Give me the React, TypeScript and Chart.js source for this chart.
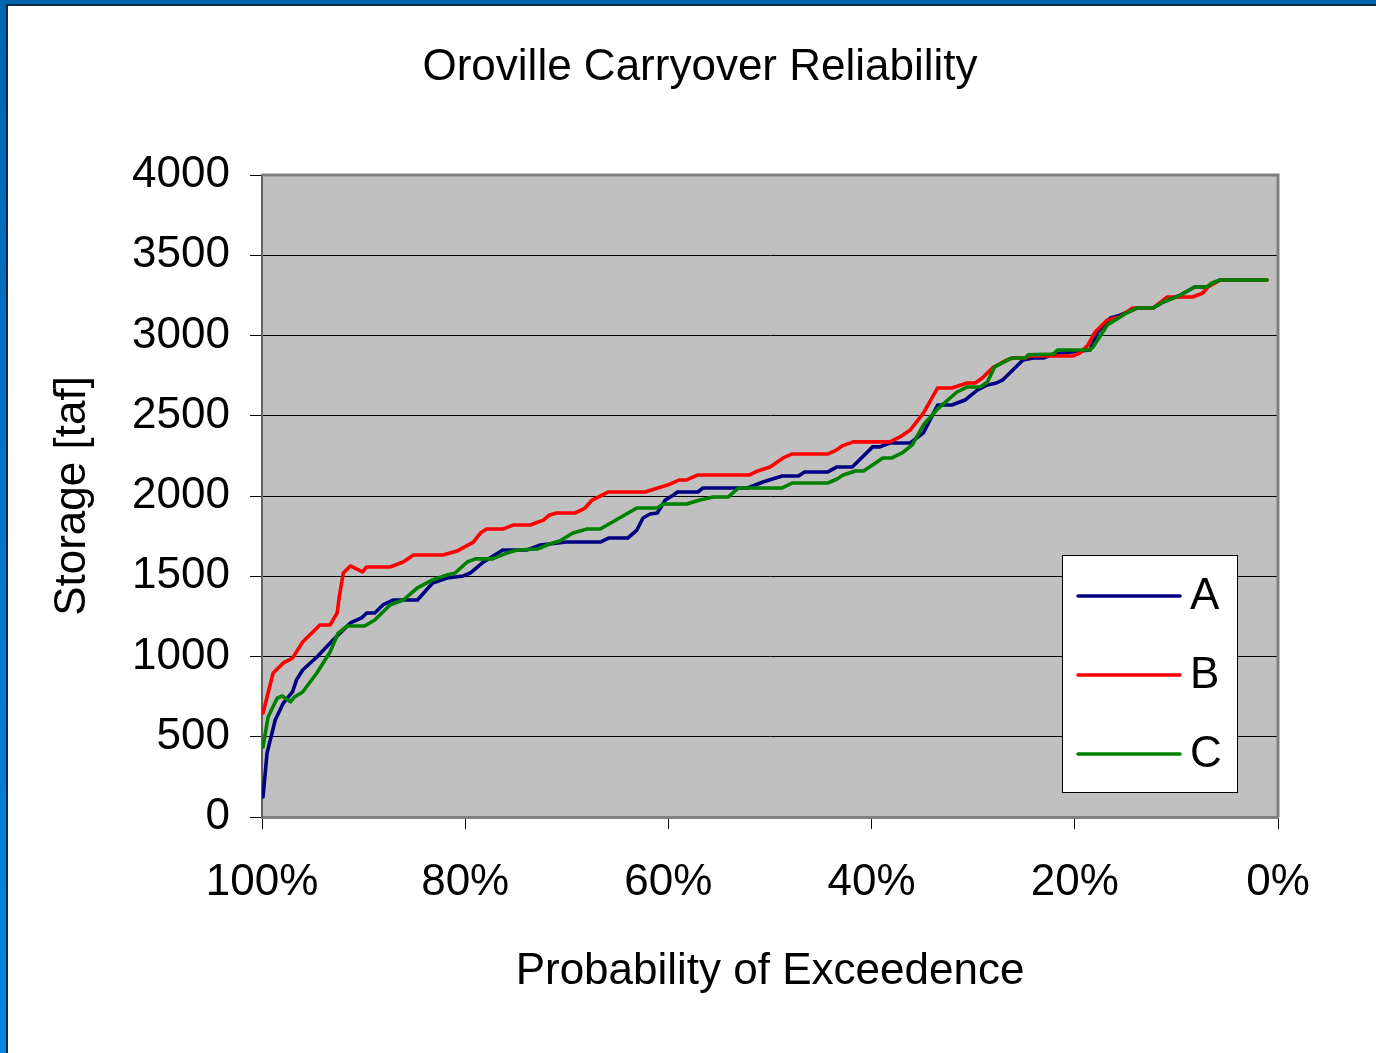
import React, { useEffect, useRef } from "react";
import { Chart, registerables } from "chart.js";

Chart.register(...registerables);

const TITLE = "Oroville Carryover Reliability";
const X_TITLE = "Probability of Exceedence";
const Y_TITLE = "Storage [taf]";
const SERIES_NAMES = ["A", "B", "C"];
const SERIES_COLORS = ["#000080", "#FF0000", "#008000"];

// Probability of exceedence (%) and storage (taf) for each series
const aX = [99.9, 99.5, 98.7, 97.9, 97.0, 96.6, 96.0, 94.6, 93.0, 91.3, 90.2, 89.7, 88.9, 88.1, 87.1, 84.7, 83.2, 81.8, 80.2, 79.5, 78.2, 76.3, 73.9, 72.6, 70.0, 66.7, 65.9, 64.0, 63.1, 62.5, 61.8, 61.1, 60.3, 59.5, 59.1, 57.1, 56.6, 52.2, 50.7, 48.8, 47.2, 46.6, 44.3, 43.4, 41.9, 40.9, 39.9, 39.2, 38.2, 36.2, 34.9, 33.5, 32.1, 30.8, 29.6, 28.6, 27.7, 27.1, 25.1, 24.1, 23.1, 22.1, 18.5, 17.8, 16.5, 15.8, 13.9, 12.3, 11.3, 9.6, 8.2, 7.0, 5.7, 1.1];
const aY = [125, 399, 604, 710, 779, 854, 916, 997, 1103, 1209, 1240, 1271, 1271, 1321, 1352, 1352, 1458, 1489, 1502, 1520, 1589, 1664, 1664, 1695, 1713, 1713, 1738, 1738, 1788, 1863, 1888, 1894, 1975, 2006, 2025, 2025, 2050, 2050, 2087, 2125, 2125, 2150, 2150, 2181, 2181, 2243, 2306, 2306, 2330, 2330, 2393, 2567, 2567, 2598, 2660, 2692, 2704, 2723, 2847, 2860, 2860, 2885, 2910, 3016, 3109, 3121, 3171, 3171, 3209, 3252, 3302, 3302, 3346, 3346];

const bX = [99.9, 98.9, 97.9, 97.0, 96.0, 94.3, 93.3, 92.6, 92.4, 92.0, 91.3, 90.1, 89.7, 87.4, 86.1, 85.1, 82.2, 80.8, 79.2, 78.5, 77.9, 76.3, 75.3, 73.6, 72.3, 71.7, 71.0, 69.2, 68.2, 67.5, 65.9, 62.3, 60.1, 58.9, 58.2, 57.1, 52.0, 51.2, 50.0, 48.7, 47.8, 44.3, 43.6, 42.9, 41.8, 38.2, 37.2, 36.2, 34.9, 33.5, 32.1, 30.6, 29.8, 29.1, 28.1, 26.7, 26.1, 24.9, 24.4, 20.2, 19.5, 18.7, 18.0, 16.8, 15.6, 14.3, 12.3, 10.9, 8.4, 7.4, 6.9, 5.7, 1.1];
const bY = [648, 897, 960, 990, 1090, 1196, 1196, 1271, 1370, 1520, 1564, 1527, 1558, 1558, 1589, 1632, 1632, 1657, 1713, 1769, 1794, 1794, 1819, 1819, 1850, 1882, 1894, 1894, 1925, 1975, 2025, 2025, 2068, 2100, 2100, 2131, 2131, 2156, 2181, 2237, 2262, 2262, 2281, 2312, 2337, 2337, 2368, 2411, 2517, 2673, 2673, 2704, 2704, 2735, 2798, 2847, 2860, 2860, 2872, 2872, 2891, 2941, 3022, 3097, 3115, 3171, 3171, 3240, 3240, 3265, 3302, 3346, 3346];

const cX = [99.9, 99.4, 98.5, 98.0, 97.2, 96.8, 96.0, 94.6, 93.3, 92.5, 91.6, 89.9, 88.9, 87.4, 86.1, 84.7, 83.2, 81.8, 81.0, 79.8, 79.0, 77.3, 75.9, 74.9, 72.9, 71.7, 70.7, 69.4, 68.0, 66.7, 65.5, 63.8, 63.1, 61.1, 60.5, 58.2, 56.9, 55.6, 54.1, 53.1, 48.8, 47.8, 44.3, 43.4, 42.8, 41.6, 40.8, 39.9, 38.9, 38.0, 37.0, 36.0, 34.9, 33.6, 31.6, 30.6, 29.3, 28.6, 27.9, 26.2, 24.9, 24.6, 22.1, 21.7, 18.5, 18.2, 16.8, 14.9, 13.9, 12.3, 11.3, 9.6, 8.2, 7.0, 6.5, 5.7, 1.1];
const cY = [436, 623, 741, 754, 717, 748, 779, 897, 1028, 1146, 1190, 1190, 1227, 1321, 1352, 1427, 1477, 1508, 1520, 1589, 1608, 1608, 1645, 1664, 1670, 1701, 1720, 1769, 1794, 1794, 1838, 1900, 1925, 1925, 1950, 1950, 1975, 1994, 1994, 2050, 2050, 2081, 2081, 2106, 2131, 2156, 2156, 2193, 2237, 2237, 2268, 2318, 2442, 2536, 2648, 2679, 2679, 2710, 2804, 2860, 2860, 2879, 2885, 2910, 2910, 2928, 3065, 3140, 3171, 3171, 3209, 3252, 3302, 3302, 3327, 3346, 3346];

const X_MIN = 0;
const X_MAX = 100;
const X_STEP = 20;
const Y_MIN = 0;
const Y_MAX = 4000;
const Y_STEP = 500;

const FONT = "'Liberation Sans', Arial, Helvetica, sans-serif";

const toXY = (xs: number[], ys: number[]) => xs.map((x, i) => ({ x, y: ys[i] }));

const plotBackground = {
  id: "plotBackground",
  beforeDraw(chart: any) {
    const { ctx, chartArea } = chart;
    ctx.save();
    ctx.fillStyle = "#C0C0C0";
    ctx.fillRect(chartArea.left, chartArea.top, chartArea.right - chartArea.left, chartArea.bottom - chartArea.top);
    ctx.restore();
  },
  beforeDatasetsDraw(chart: any) {
    const { ctx, chartArea } = chart;
    ctx.save();
    ctx.strokeStyle = "#808080";
    ctx.lineWidth = 3;
    ctx.beginPath();
    ctx.moveTo(chartArea.left, chartArea.top);
    ctx.lineTo(chartArea.right, chartArea.top);
    ctx.lineTo(chartArea.right, chartArea.bottom);
    ctx.stroke();
    ctx.restore();
  },
};

const boxLegend = {
  id: "boxLegend",
  afterDatasetsDraw(chart: any) {
    const { ctx, chartArea } = chart;
    const w = 175;
    const h = 237;
    const x0 = chartArea.right - 41 - w;
    const y0 = chartArea.bottom - 25 - h;
    ctx.save();
    ctx.fillStyle = "#FFFFFF";
    ctx.fillRect(x0, y0, w, h);
    ctx.strokeStyle = "#000000";
    ctx.lineWidth = 1;
    ctx.strokeRect(x0 + 0.5, y0 + 0.5, w, h);
    ctx.font = `44px ${FONT}`;
    ctx.textBaseline = "middle";
    ctx.textAlign = "left";
    chart.data.datasets.forEach((ds: any, i: number) => {
      const cy = y0 + 41 + i * 79;
      ctx.strokeStyle = ds.borderColor;
      ctx.lineWidth = 3.5;
      ctx.lineCap = "round";
      ctx.beginPath();
      ctx.moveTo(x0 + 16, cy);
      ctx.lineTo(x0 + 118, cy);
      ctx.stroke();
      ctx.fillStyle = "#000000";
      ctx.fillText(ds.label, x0 + 128, cy + 1);
    });
    ctx.restore();
  },
};

export default function App() {
  const ref = useRef<HTMLCanvasElement | null>(null);

  useEffect(() => {
    if (!ref.current) return;
    const seriesData = [toXY(aX, aY), toXY(bX, bY), toXY(cX, cY)];
    const chart = new Chart(ref.current, {
      type: "line",
      data: {
        datasets: seriesData.map((d, i) => ({
          label: SERIES_NAMES[i],
          data: d,
          order: seriesData.length - 1 - i,
          borderColor: SERIES_COLORS[i],
          backgroundColor: SERIES_COLORS[i],
          borderWidth: 3.6,
          pointRadius: 0,
          tension: 0,
          fill: false,
          borderJoinStyle: "round",
          borderCapStyle: "round",
        })),
      },
      options: {
        animation: false,
        responsive: false,
        layout: { padding: { left: 24, right: 0, top: 0, bottom: 0 } },
        plugins: {
          legend: { display: false },
          tooltip: { enabled: false },
          title: {
            display: true,
            text: TITLE,
            color: "#000",
            font: { family: FONT, size: 44, weight: "normal" },
            padding: { top: 41, bottom: 81.2 },
          },
        },
        scales: {
          x: {
            type: "linear",
            position: "bottom",
            min: X_MIN,
            max: X_MAX,
            reverse: true,
            ticks: {
              stepSize: X_STEP,
              autoSkip: false,
              maxRotation: 0,
              color: "#000",
              font: { family: FONT, size: 44 },
              padding: 27.4,
              callback: (v: any) => `${v}%`,
            },
            grid: { drawOnChartArea: false, drawTicks: true, tickLength: 12, color: "#000", lineWidth: 1 },
            border: { display: true, color: "#808080", width: 3 },
            title: {
              display: true,
              text: X_TITLE,
              color: "#000",
              font: { family: FONT, size: 44 },
              padding: { top: 0, bottom: 55 },
            },
            afterFit: (s: any) => {
              s.height = 236;
            },
          },
          y: {
            type: "linear",
            position: "left",
            min: Y_MIN,
            max: Y_MAX,
            ticks: {
              stepSize: Y_STEP,
              color: "#000",
              font: { family: FONT, size: 44 },
              padding: 20,
              callback: (v: any) => String(v),
            },
            grid: { color: "#000", lineWidth: 1, tickLength: 12 },
            border: { display: true, color: "#606060", width: 2 },
            title: {
              display: true,
              text: Y_TITLE,
              color: "#000",
              font: { family: FONT, size: 44 },
              padding: { top: 22.6, bottom: 0 },
            },
            afterFit: (s: any) => {
              s.width = 238;
            },
          },
          yRight: {
            type: "linear",
            position: "right",
            display: true,
            ticks: { display: false },
            grid: { display: false },
            border: { display: false },
            afterFit: (s: any) => {
              s.width = 98;
            },
          },
        },
      } as any,
      plugins: [plotBackground, boxLegend],
    });
    return () => chart.destroy();
  }, []);

  return (
    <div style={{ position: "fixed", left: 0, top: 0, width: 1376, height: 1053, background: "#fff", overflow: "hidden" }}>
      <div style={{ position: "absolute", left: 0, top: 0, width: 1376, height: 4, background: "#0064AF" }} />
      <div style={{ position: "absolute", left: 0, top: 4, width: 1376, height: 2, background: "#0B2A48" }} />
      <div style={{ position: "absolute", left: 0, top: 0, width: 6, height: 1053, background: "linear-gradient(#0064AF, #0088E4)" }} />
      <div style={{ position: "absolute", left: 6, top: 4, width: 2, height: 1049, background: "#0B2A48" }} />
      <canvas ref={ref} width={1376} height={1053} style={{ position: "absolute", left: 0, top: 0, display: "block" }} />
    </div>
  );
}
